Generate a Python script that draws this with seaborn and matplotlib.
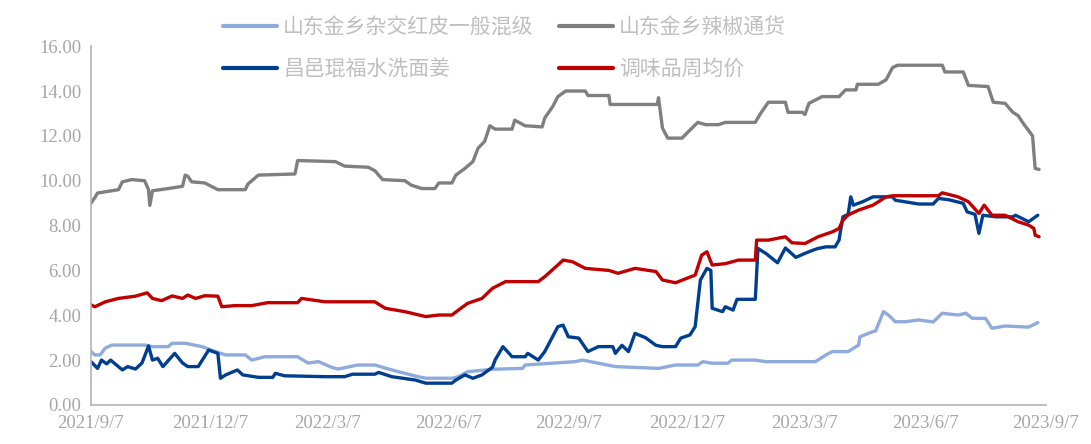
import pandas as pd
import seaborn as sns
import matplotlib.pyplot as plt
from matplotlib.ticker import FormatStrFormatter

# series names
name_hongpi = '山东金乡杂交红皮一般混级'
name_lajiao = '山东金乡辣椒通货'
name_jiang = '昌邑琨福水洗面姜'
name_avg = '调味品周均价'

start = pd.Timestamp('2021-09-07')

# days since 2021/9/7 and prices
hongpi_days = [0, 3, 7, 11, 16, 41, 47, 59, 62, 72, 85, 93, 103, 118, 123, 133, 158, 166, 174, 184,
               189, 204, 217, 230, 250, 256, 276, 281, 288, 307, 330, 332, 370, 376, 401, 434, 447, 464,
               468, 475, 487, 490, 508, 516, 554, 562, 567, 579, 587, 588, 598, 600, 606, 610, 615, 623,
               633, 644, 651, 663, 669, 674, 684, 689, 699, 717, 724]
hongpi_vals = [2.38, 2.23, 2.23, 2.54, 2.67, 2.67, 2.6, 2.6, 2.75, 2.75, 2.6, 2.42, 2.23, 2.23, 2.0, 2.15,
               2.15, 1.87, 1.93, 1.68, 1.6, 1.78, 1.78, 1.56, 1.26, 1.19, 1.19, 1.26, 1.48, 1.59, 1.63,
               1.78, 1.93, 2.0, 1.71, 1.63, 1.78, 1.78, 1.93, 1.86, 1.86, 2.0, 2.0, 1.93, 1.93, 2.23, 2.38,
               2.38, 2.67, 3.04, 3.27, 3.3, 4.16, 4.0, 3.71, 3.71, 3.79, 3.7, 4.09, 4.01, 4.09, 3.86, 3.86,
               3.42, 3.52, 3.47, 3.67]

lajiao_days = [0, 3, 5, 21, 24, 31, 41, 44, 45, 47, 59, 70, 72, 74, 77, 87, 97, 118, 120, 125, 128, 156,
               158, 187, 194, 212, 217, 223, 240, 245, 253, 263, 266, 276, 279, 286, 292, 296, 301, 305,
               309, 322, 324, 332, 345, 347, 353, 357, 363, 378, 380, 396, 397, 433, 434, 437, 441, 452,
               457, 464, 470, 480, 485, 508, 512, 518, 531, 533, 544, 546, 549, 559, 572, 577, 585, 586,
               602, 608, 613, 617, 651, 653, 667, 671, 686, 690, 699, 705, 709, 713, 720, 722, 725]
lajiao_vals = [9.0, 9.25, 9.45, 9.6, 9.95, 10.05, 10.0, 9.6, 8.9, 9.55, 9.65, 9.75, 10.25, 10.2, 9.95, 9.9,
               9.6, 9.6, 9.85, 10.1, 10.25, 10.3, 10.9, 10.85, 10.65, 10.6, 10.45, 10.05, 10.0, 9.8, 9.65,
               9.65, 9.9, 9.9, 10.25, 10.55, 10.85, 11.45, 11.75, 12.45, 12.3, 12.3, 12.7, 12.45, 12.4,
               12.8, 13.3, 13.75, 14.0, 14.0, 13.8, 13.8, 13.4, 13.4, 13.7, 12.35, 11.9, 11.9, 12.2, 12.6,
               12.5, 12.5, 12.6, 12.6, 13.0, 13.5, 13.5, 13.05, 13.05, 12.95, 13.45, 13.75, 13.75, 14.05,
               14.05, 14.3, 14.3, 14.5, 15.05, 15.15, 15.15, 14.85, 14.85, 14.25, 14.2, 13.5, 13.45, 13.05,
               12.9, 12.55, 12.0, 10.55, 10.5]

jiang_days = [0, 5, 8, 12, 15, 24, 28, 34, 39, 44, 47, 51, 55, 64, 70, 74, 82, 90, 97, 99, 103, 112, 116,
              128, 139, 141, 148, 179, 194, 200, 217, 220, 230, 248, 256, 276, 279, 286, 292, 299, 307,
              309, 315, 322, 332, 334, 342, 347, 357, 361, 365, 373, 380, 388, 399, 401, 406, 411, 416,
              424, 432, 437, 447, 451, 458, 462, 466, 471, 474, 475, 483, 485, 491, 494, 508, 510, 516,
              525, 531, 539, 546, 552, 556, 562, 569, 572, 575, 579, 581, 583, 590, 598, 613, 615, 633,
              644, 648, 656, 667, 670, 676, 679, 682, 692, 705, 707, 717, 724]
jiang_vals = [1.93, 1.63, 2.0, 1.83, 2.0, 1.56, 1.71, 1.6, 1.87, 2.63, 2.0, 2.08, 1.71, 2.3, 1.87, 1.71,
              1.71, 2.45, 2.3, 1.19, 1.34, 1.56, 1.34, 1.23, 1.23, 1.41, 1.3, 1.26, 1.26, 1.37, 1.37, 1.45,
              1.26, 1.11, 0.97, 0.97, 1.11, 1.34, 1.19, 1.34, 1.68, 2.0, 2.6, 2.15, 2.15, 2.3, 2.0, 2.38,
              3.49, 3.56, 3.04, 2.98, 2.38, 2.6, 2.6, 2.3, 2.66, 2.38, 3.19, 3.0, 2.66, 2.6, 2.6, 2.98,
              3.12, 3.49, 5.57, 6.09, 6.0, 4.31, 4.16, 4.38, 4.23, 4.71, 4.71, 6.98, 6.76, 6.34, 7.0, 6.58,
              6.76, 6.9, 6.98, 7.05, 7.05, 7.35, 8.39, 8.5, 9.28, 8.91, 9.06, 9.28, 9.28, 9.13, 8.96, 8.96,
              9.21, 9.15, 8.99, 8.61, 8.5, 7.65, 8.46, 8.39, 8.39, 8.46, 8.17, 8.46]

avg_days = [0, 3, 11, 21, 34, 43, 47, 54, 62, 70, 74, 80, 87, 97, 100, 110, 123, 135, 158, 161, 179, 217,
            225, 240, 256, 266, 276, 281, 288, 299, 307, 317, 342, 347, 357, 361, 368, 378, 396, 403, 416,
            432, 437, 447, 462, 467, 471, 475, 485, 495, 508, 509, 518, 531, 536, 546, 556, 567, 572, 575,
            579, 587, 598, 608, 613, 648, 651, 663, 671, 679, 683, 689, 699, 709, 717, 721, 722, 725]
avg_vals = [4.46, 4.38, 4.6, 4.75, 4.85, 5.0, 4.75, 4.65, 4.86, 4.75, 4.9, 4.75, 4.87, 4.85, 4.38, 4.43,
            4.43, 4.56, 4.56, 4.75, 4.6, 4.6, 4.31, 4.16, 3.94, 4.01, 4.01, 4.23, 4.53, 4.75, 5.2, 5.5, 5.5,
            5.72, 6.24, 6.46, 6.39, 6.09, 6.0, 5.87, 6.09, 5.95, 5.57, 5.45, 5.79, 6.68, 6.83, 6.24, 6.3,
            6.46, 6.46, 7.35, 7.35, 7.5, 7.23, 7.2, 7.5, 7.72, 7.87, 8.24, 8.47, 8.69, 8.91, 9.28, 9.33,
            9.33, 9.46, 9.28, 9.06, 8.54, 8.91, 8.46, 8.46, 8.17, 8.02, 7.87, 7.57, 7.5]

tick_labels = ['2021/9/7', '2021/12/7', '2022/3/7', '2022/6/7', '2022/9/7',
               '2022/12/7', '2023/3/7', '2023/6/7', '2023/9/7']

colors = {name_hongpi: '#8faadc', name_lajiao: '#7f7f7f', name_jiang: '#003f8f', name_avg: '#c00000'}


# long table for seaborn
def make_frame(days, vals, name):
    return pd.DataFrame({'date': start + pd.to_timedelta(days, unit='D'), 'price': vals, 'series': name})


df = pd.concat([make_frame(hongpi_days, hongpi_vals, name_hongpi),
                make_frame(lajiao_days, lajiao_vals, name_lajiao),
                make_frame(jiang_days, jiang_vals, name_jiang),
                make_frame(avg_days, avg_vals, name_avg)], ignore_index=True)

sns.set_style('white')
plt.rcParams['font.family'] = ['Liberation Serif', 'Noto Sans CJK SC']

fig = plt.figure(figsize=(10.91, 4.44), dpi=100)
ax = fig.add_axes([0.0834, 0.088, 0.875, 0.808])

sns.lineplot(data=df, x='date', y='price', hue='series', palette=colors, estimator=None,
             linewidth=2.4, ax=ax, legend=False)

# y axis
ax.set_ylim(0, 16)
ax.set_yticks(range(0, 17, 2))
ax.yaxis.set_major_formatter(FormatStrFormatter('%.2f'))

# x axis
tick_dates = [pd.Timestamp(t.replace('/', '-')) for t in tick_labels]
ax.set_xlim(tick_dates[0], tick_dates[-1])
ax.set_xticks(tick_dates)
ax.set_xticklabels(tick_labels)

ax.set_xlabel('')
ax.set_ylabel('')
for side in ['top', 'right']:
    ax.spines[side].set_visible(False)
for side in ['left', 'bottom']:
    ax.spines[side].set_color('#b4b4b4')
    ax.spines[side].set_linewidth(1.2)
ax.tick_params(axis='both', direction='out', length=5, width=1.2, color='#b4b4b4',
               labelcolor='#a6a6a6', labelsize=13.5, pad=2)

# legend, two rows above the plot
order = [name_hongpi, name_jiang, name_lajiao, name_avg]
handles = [plt.Line2D([], [], color=colors[n], linewidth=3) for n in order]
ax.legend(handles, order, ncol=2, loc='upper left', bbox_to_anchor=(0.138, 1.083),
          frameon=False, prop={'family': 'Noto Sans CJK SC', 'size': 15}, labelcolor='#bfbfbf',
          handlelength=2.6, handletextpad=0.3, columnspacing=1.2, labelspacing=0.95,
          borderpad=0, borderaxespad=0)

fig.savefig('out.png', dpi=100)
